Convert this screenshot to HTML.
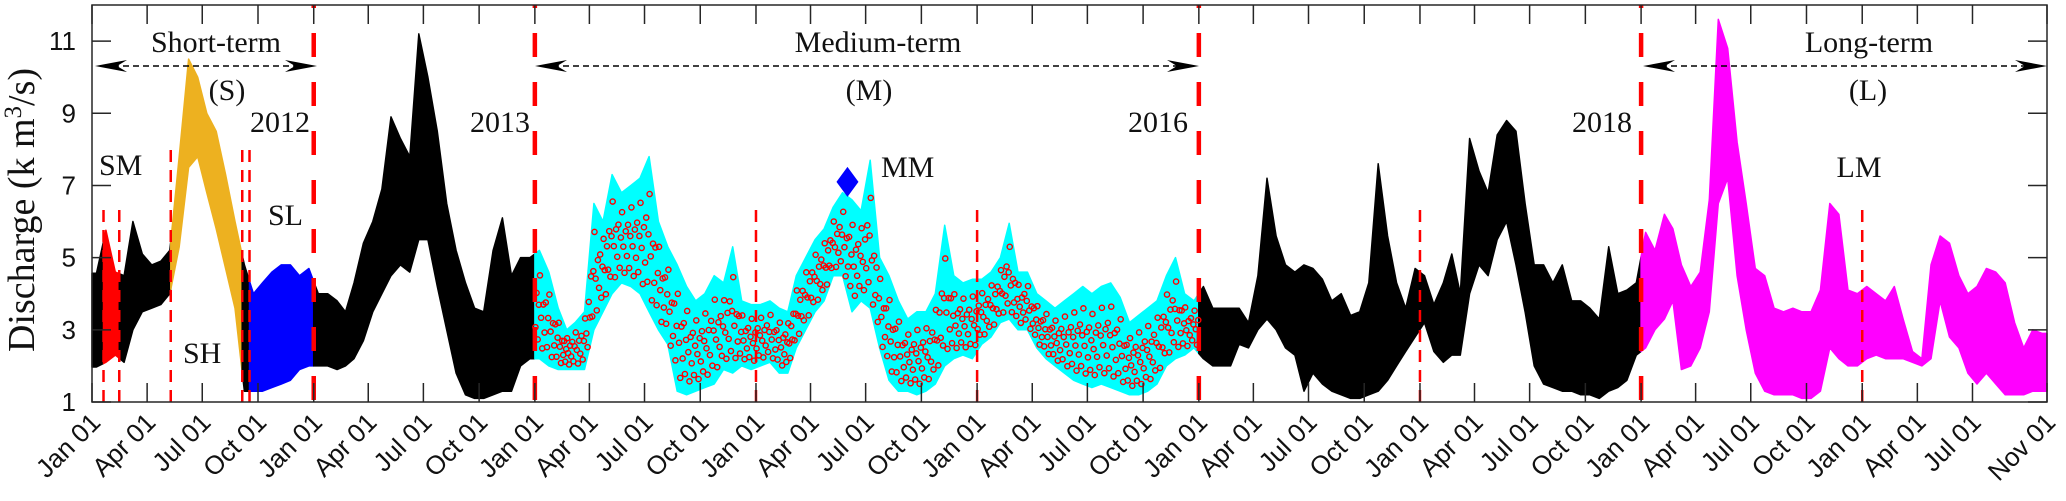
<!DOCTYPE html>
<html><head><meta charset="utf-8">
<style>
html,body{margin:0;padding:0;background:#fff;}
svg{display:block;}
.serif{font-family:"Liberation Serif",serif;}
.sans{font-family:"Liberation Sans",sans-serif;}
</style></head>
<body>
<svg id="chart" width="2066" height="501" viewBox="0 0 2066 501" xmlns="http://www.w3.org/2000/svg">
  <g id="series"></g>
  <g id="markers"></g>
  <g id="axes"></g>
  <g id="annot"></g>
</svg>
<script>
// Half-month envelope (min / max) of daily discharge, Jan 2012 .. Oct 2020 (k m3/s)
const lo2012 = [1.97,2.1,2.3,2.1,3.0,3.5,3.6,3.7,4.0,5.3,7.5,7.8,6.8,5.8,4.7,3.6,1.3,1.3,1.3,1.4,1.5,1.6,1.9,2.0];
const hi2012 = [4.57,5.76,4.6,4.5,6.0,5.1,4.8,4.9,5.2,7.8,10.5,10.0,9.0,8.5,7.3,6.0,4.8,4.0,4.3,4.6,4.8,4.8,4.5,4.7];
const lo2013 = [2.0,2.0,1.9,2.0,2.2,2.7,3.5,4.0,4.5,4.8,4.6,5.5,5.5,4.2,3.0,1.8,1.2,1.1,1.1,1.2,1.3,1.3,2.0,2.2];
const hi2013 = [4.0,4.0,3.8,3.5,4.3,5.4,6.0,6.9,8.9,8.3,7.8,11.2,10.0,8.5,6.5,5.2,4.3,3.6,3.5,5.2,6.1,4.5,5.0,5.0];
const lo2014 = [2.2,2.0,1.9,1.9,1.9,1.9,3.0,3.5,4.0,4.3,4.2,4.0,3.5,3.0,2.6,1.3,1.2,1.3,1.4,1.5,1.9,1.8,2.0,1.9];
const hi2014 = [5.2,4.6,3.6,3.0,3.2,3.5,6.5,6.0,7.3,6.8,7.0,7.2,7.8,6.0,5.3,4.8,4.2,3.8,4.0,4.5,4.3,5.3,3.8,3.7];
const lo2015 = [2.0,2.1,1.8,1.8,2.5,3.0,3.5,3.8,4.5,4.5,3.5,3.8,3.6,2.5,1.6,1.3,1.3,1.2,1.3,1.5,2.0,2.2,2.3,2.2];
const hi2015 = [3.7,3.8,3.6,3.5,4.5,5.0,5.5,5.8,6.4,6.8,6.6,6.3,7.7,5.0,4.5,3.8,3.3,3.5,3.5,4.0,5.9,4.5,4.3,4.4];
const lo2016 = [2.6,2.8,3.2,3.3,3.0,3.0,2.5,2.2,2.0,1.8,1.6,1.5,1.4,1.5,1.4,1.3,1.2,1.2,1.3,1.5,2.0,2.2,2.3,2.5];
const hi2016 = [4.4,4.6,5.0,5.95,4.6,4.6,4.0,3.8,3.6,3.8,4.0,4.2,4.0,4.2,4.3,3.9,3.2,3.4,3.6,3.8,4.5,5.0,4.0,3.8];
const lo2017 = [2.2,2.0,2.0,2.0,2.6,2.5,3.0,3.3,3.0,2.5,2.3,1.3,1.8,1.5,1.3,1.2,1.1,1.1,1.2,1.3,1.6,2.0,2.4,2.8];
const hi2017 = [4.2,3.6,3.6,3.6,3.6,3.2,4.5,7.2,5.6,4.8,4.6,4.8,4.7,4.4,3.8,4.0,3.4,3.5,4.3,7.6,5.6,4.3,3.6,4.7];
const lo2018 = [3.2,2.4,2.1,2.3,2.3,4.0,4.8,4.5,5.5,6.0,4.8,3.5,2.0,1.5,1.4,1.3,1.3,1.2,1.2,1.1,1.3,1.4,1.6,2.3];
const hi2018 = [4.5,3.7,4.3,5.1,4.0,8.3,7.4,6.8,8.4,8.8,8.5,6.5,4.8,4.8,4.3,4.8,3.8,3.8,3.6,3.3,5.3,4.0,4.1,4.3];
const lo2019 = [2.5,3.0,3.3,3.8,1.9,2.0,2.5,3.5,6.5,7.2,4.5,3.0,1.8,1.3,1.2,1.2,1.2,1.1,1.1,1.3,2.5,2.2,2.0,2.0];
const hi2019 = [5.7,5.2,6.2,5.8,4.8,4.2,4.6,6.6,11.6,10.8,8.2,6.5,4.7,4.5,3.6,3.5,3.6,3.5,3.5,4.1,6.5,6.2,4.1,4.0];
const lo2020 = [2.2,2.3,2.2,2.2,2.2,2.1,2.0,2.2,3.8,2.8,2.5,1.8,1.5,1.8,1.5,1.2,1.2,1.2,1.3,1.3];
const hi2020 = [4.2,4.0,3.8,4.2,3.3,2.4,2.2,4.8,5.6,5.4,4.5,4.0,4.2,4.7,4.6,4.3,3.2,2.5,3.0,2.9];
const yTicks = [1,3,5,7,9,11];
const mmPeak = {date:[2015,5,1], value:7.1};

const lows = [].concat(lo2012,lo2013,lo2014,lo2015,lo2016,lo2017,lo2018,lo2019,lo2020);
const highs = [].concat(hi2012,hi2013,hi2014,hi2015,hi2016,hi2017,hi2018,hi2019,hi2020);

const NS = "http://www.w3.org/2000/svg";
const L = 92, R = 2047, T = 5, B = 402;
const D0 = Date.UTC(2012,0,1), D1 = Date.UTC(2020,10,1);
function day(y,m,d){ return (Date.UTC(y,m,d)-D0)/86400000; }
const totalDays = (D1-D0)/86400000;
function xs(dd){ return L + dd/totalDays*(R-L); }
function ys(v){ return B - (v-1)/(12-1)*(B-T); }
function mk(tag, attrs, parent){ const e=document.createElementNS(NS,tag); for(const k in attrs) e.setAttribute(k,attrs[k]); parent.appendChild(e); return e; }

const segs = [
  {s:day(2012,0,20), e:day(2012,1,15), c:"#ff0000"},
  {s:day(2012,4,10), e:day(2012,8,5), c:"#EDB120"},
  {s:day(2012,8,17), e:day(2013,0,1), c:"#0000ff"},
  {s:day(2014,0,1), e:day(2017,0,1), c:"#00ffff"},
  {s:day(2019,0,1), e:day(2021,0,1), c:"#ff00ff"}
];
function colorAt(dd){ for(const s of segs){ if(dd>=s.s && dd<s.e) return s.c; } return "#000000"; }

const periods = [];
for(let i=0;i<lows.length;i++){
  const yr = 2012 + Math.floor(i/24), q = i%24, m = Math.floor(q/2);
  const s = q%2===0 ? day(yr,m,1) : day(yr,m,16);
  const e = q%2===0 ? day(yr,m,16) : day(yr,m+1,1);
  periods.push({s,e,c:(s+e)/2,lo:lows[i],hi:highs[i]});
}
function interp(dd,key){
  if(dd<=periods[0].c) return periods[0][key];
  for(let i=0;i<periods.length-1;i++){
    const a=periods[i], b=periods[i+1];
    if(dd<=b.c){ const t=(dd-a.c)/(b.c-a.c); return a[key]+(b[key]-a[key])*t; }
  }
  return periods[periods.length-1][key];
}
const cuts=[0]; segs.forEach(s=>{ if(s.s>0&&s.s<totalDays) cuts.push(s.s); if(s.e>0&&s.e<totalDays) cuts.push(s.e); });
cuts.push(totalDays); cuts.sort((a,b)=>a-b);
const gS = document.getElementById('series');
for(let k=0;k<cuts.length-1;k++){
  const a=cuts[k], b=cuts[k+1]; if(b-a<0.5) continue;
  const top=[], bot=[];
  const ptsD=[a]; periods.forEach(p=>{ if(p.c>a && p.c<b) ptsD.push(p.c); }); ptsD.push(b);
  ptsD.forEach(d=>{ top.push(xs(d).toFixed(1)+","+ys(interp(d,'hi')).toFixed(1)); bot.unshift(xs(d).toFixed(1)+","+ys(interp(d,'lo')).toFixed(1)); });
  const pg = mk('polygon',{points:top.concat(bot).join(" "),fill:colorAt((a+b)/2),stroke:colorAt((a+b)/2),"stroke-width":1.5,"stroke-linejoin":"round"},gS);
  
  
}
const fr = [0.3,0.62,0.18,0.5,0.78,0.4,0.12,0.56];
periods.forEach(p=>{
  if(p.s < day(2014,0,1) || p.s >= day(2017,0,1)) return;
  fr.forEach((f,k)=>{
    const d = p.s + (k+0.5)/fr.length*(p.e-p.s);
    const lo=interp(d,'lo'), hi=interp(d,'hi');
    const c = mk('circle',{cx:xs(d), cy:ys(lo+f*(hi-lo)), r:2.6, fill:"none", stroke:"#ff0000","stroke-width":1.4},gS);
    
    
  });
});

const gM = document.getElementById('markers');
const thick = [day(2013,0,1),day(2014,0,1),day(2017,0,1),day(2019,0,1)];
thick.forEach(d=>{
  const l = mk('line',{x1:xs(d),x2:xs(d),y1:B,y2:T,stroke:"#ff0000","stroke-width":4.5,"stroke-dasharray":"24 25","stroke-dashoffset":"-2"},gM);
  
  
});
const thinD = [day(2012,0,20),day(2012,1,15),day(2012,4,10),day(2012,8,5),day(2012,8,17),day(2015,0,1),day(2016,0,1),day(2018,0,1),day(2020,0,1)];
const thinTop = [6.5,6.5,8.0,8.0,8.0,6.5,6.5,6.5,6.5];
thinD.forEach((d,i)=>{
  const l = mk('line',{x1:xs(d),x2:xs(d),y1:B,y2:ys(thinTop[i]),stroke:"#ff0000","stroke-width":2.5,"stroke-dasharray":"12 8"},gM);
  
  
});
const px = xs(day(mmPeak.date[0],mmPeak.date[1],mmPeak.date[2])), py = ys(mmPeak.value);
const dm = mk('polygon',{points:`${px},${py-15} ${px+11},${py} ${px},${py+15} ${px-11},${py}`,fill:"#0000ff"},gM);



const gA = document.getElementById('axes');
const box = mk('rect',{x:L,y:T,width:R-L,height:B-T,fill:"none",stroke:"#262626","stroke-width":1.5},gA);


yTicks.forEach(v=>{
  const y=ys(v);
  mk('line',{x1:L,x2:L+19,y1:y,y2:y,stroke:"#262626","stroke-width":1.5},gA);
  mk('line',{x1:R,x2:R-19,y1:y,y2:y,stroke:"#262626","stroke-width":1.5},gA);
  const t = mk('text',{x:L-16,y:y+9,"text-anchor":"end","font-size":26,class:"sans",fill:"#111"},gA);
  t.textContent = v;
  
  
});
const mNames = ["Jan","Apr","Jul","Oct"];
const xTicks = [];
for(let y=2012;y<=2020;y++){ for(let q=0;q<4;q++){ if(y===2020 && q===3) continue; xTicks.push({d:day(y,q*3,1),lab:mNames[q]+" 01"}); } }
xTicks.push({d:day(2020,10,1),lab:"Nov 01"});
xTicks.forEach(tk=>{
  const x=xs(tk.d);
  mk('line',{x1:x,x2:x,y1:B,y2:B-19,stroke:"#262626","stroke-width":1.5},gA);
  mk('line',{x1:x,x2:x,y1:T,y2:T+19,stroke:"#262626","stroke-width":1.5},gA);
  const t = mk('text',{x:x+10,y:B+22,"text-anchor":"end","font-size":26,class:"sans",fill:"#111",transform:`rotate(-45 ${x+10} ${B+22})`},gA);
  t.textContent = tk.lab;
  
  
});
const yl = mk('text',{x:0,y:0,"text-anchor":"middle","font-size":38,class:"serif",fill:"#111",transform:"translate(34 210) rotate(-90)"},gA);
yl.innerHTML = 'Discharge (k m<tspan baseline-shift="super" font-size="25">3</tspan>/s)';



const gN = document.getElementById('annot');
function txt(x,y,s,anchor,name,size){
  const t = mk('text',{x:x,y:y,"text-anchor":anchor,"font-size":size||30,class:"serif",fill:"#111"},gN);
  t.textContent = s;
  
  
}
function arrow(x0,x1,name){
  const y=66;
  const g = mk('g',{},gN);
  
  
  mk('line',{x1:x0+8,x2:x1-8,y1:y,y2:y,stroke:"#000","stroke-width":1.6,"stroke-dasharray":"6 4"},g);
  mk('polygon',{points:`${x0},${y} ${x0+32},${y-6} ${x0+22},${y} ${x0+32},${y+6}`,fill:"#000"},g);
  mk('polygon',{points:`${x1},${y} ${x1-32},${y-6} ${x1-22},${y} ${x1-32},${y+6}`,fill:"#000"},g);
}
arrow(95,317,'short-term-arrow');
arrow(535,1199,'medium-term-arrow');
arrow(1643,2047,'long-term-arrow');
txt(216,52,"Short-term","middle",'short-term-label');
txt(227,100,"(S)","middle",'short-term-code');
txt(310,132,"2012","end",'year-2012-label');
txt(878,52,"Medium-term","middle",'medium-term-label');
txt(869,100,"(M)","middle",'medium-term-code');
txt(530,132,"2013","end",'year-2013-label');
txt(1188,132,"2016","end",'year-2016-label');
txt(1869,52,"Long-term","middle",'long-term-label');
txt(1868,100,"(L)","middle",'long-term-code');
txt(1632,132,"2018","end",'year-2018-label');
txt(99,175,"SM","start",'sm-label');
txt(268,225,"SL","start",'sl-label');
txt(183,363,"SH","start",'sh-label');
txt(881,177,"MM","start",'mm-label');
txt(1859,177,"LM","middle",'lm-label');
</script>
</body></html>
